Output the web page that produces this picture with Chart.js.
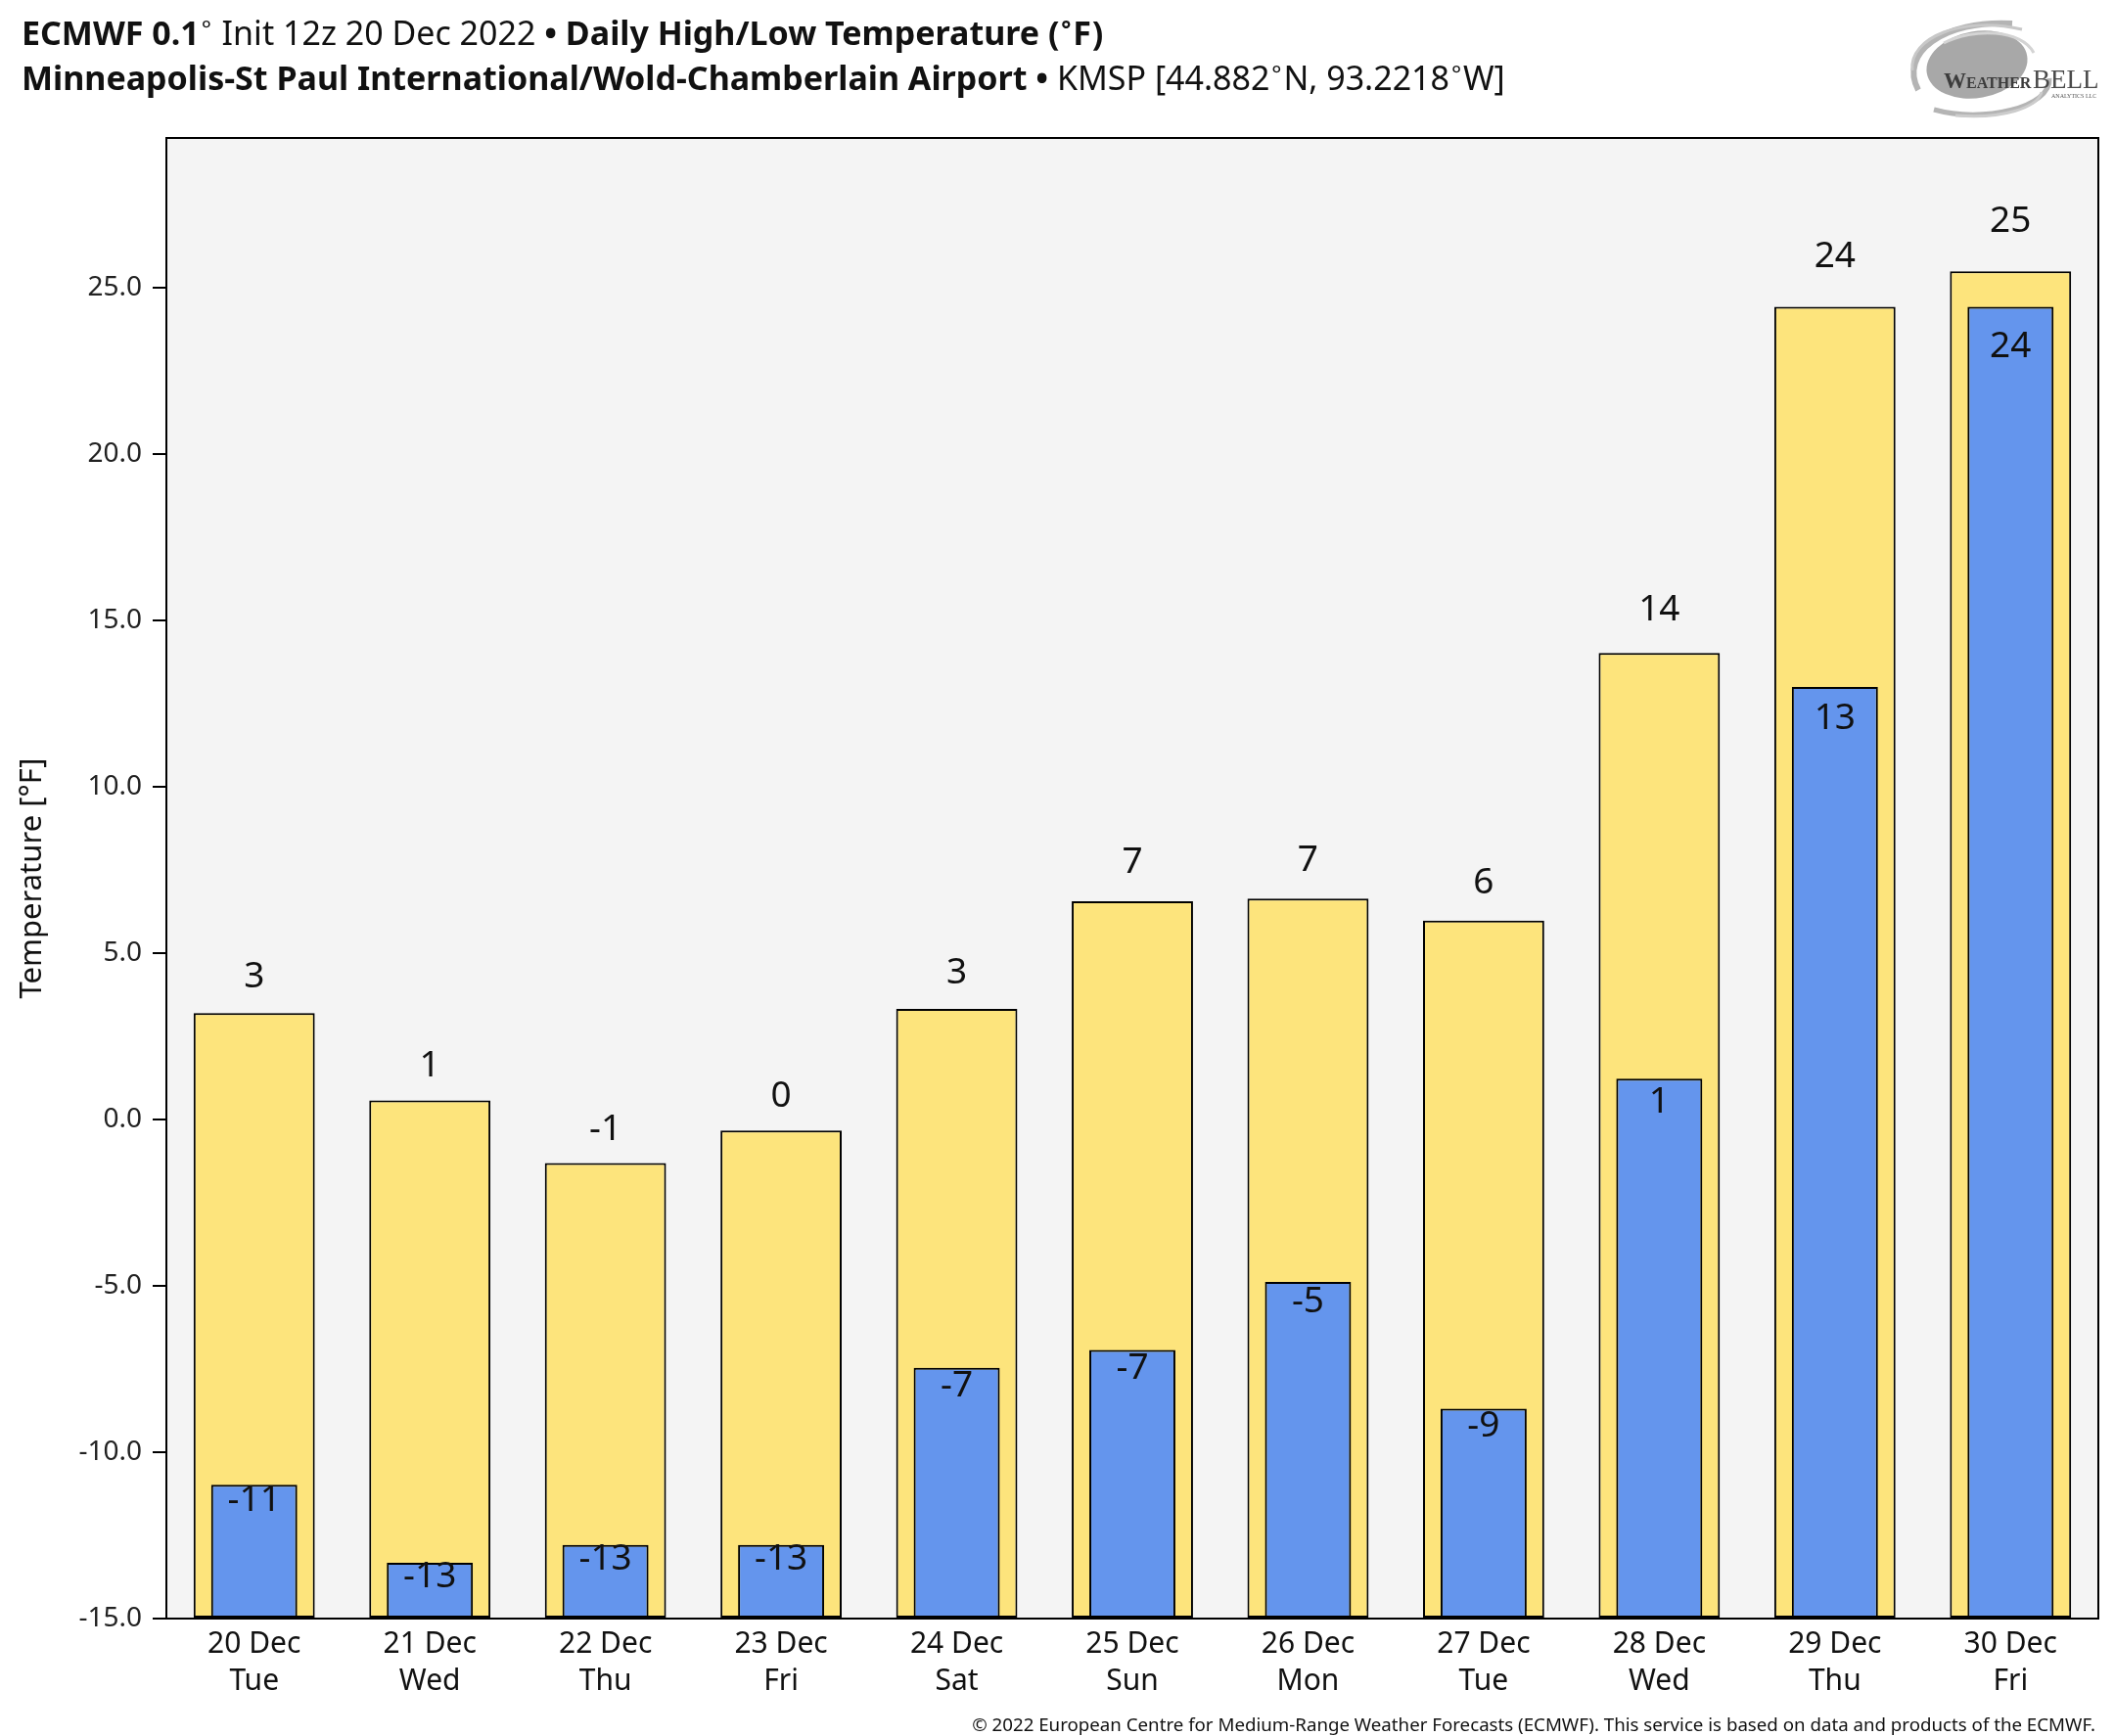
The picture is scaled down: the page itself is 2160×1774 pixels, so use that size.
<!DOCTYPE html>
<html>
<head>
<meta charset="utf-8">
<script src="https://cdn.jsdelivr.net/npm/chart.js@4/dist/chart.umd.min.js"></script>
<style>
  html, body { margin: 0; padding: 0; background: #ffffff; }
  #wrap { position: relative; width: 2160px; height: 1774px; overflow: hidden; font-family: "Noto Sans", sans-serif; color: #111; }
  #c { position: absolute; left: 0; top: 0; }
  .t { position: absolute; left: 22px; white-space: nowrap; font-size: 34px; line-height: 1; }
  .b { font-weight: bold; }
  .deg { font-size: 0.7em; position: relative; top: -0.35em; margin: 0 0.08em; }
  #foot { position: absolute; right: 19px; top: 1749px; font-size: 18.7px; white-space: nowrap; color: #111; }
  #logo { position: absolute; left: 1946px; top: 14px; }
</style>
</head>
<body>
<div id="wrap">
  <canvas id="c" width="2160" height="1774"></canvas>
  <div class="t" style="top:16px;"><span class="b">ECMWF 0.1</span><span class="deg">°</span> Init 12z 20 Dec 2022 <span class="b">• Daily High/Low Temperature (<span class="deg">°</span>F)</span></div>
  <div class="t" style="top:62px;"><span class="b">Minneapolis-St Paul International/Wold-Chamberlain Airport</span> <span class="b">•</span> KMSP [44.882<span class="deg">°</span>N, 93.2218<span class="deg">°</span>W]</div>
  <svg id="logo" width="200" height="108" viewBox="0 0 200 108">
    <ellipse cx="74" cy="52" rx="52" ry="34" fill="#a8a8a8" transform="rotate(-10 74 52)"/>
    <path d="M14 78 C -6 40, 40 6, 110 10" stroke="#b4b4b4" stroke-width="6" fill="none"/>
    <path d="M8 58 C 4 24, 60 2, 120 16" stroke="#c8c8c8" stroke-width="3" fill="none"/>
    <path d="M30 98 C 80 112, 150 96, 148 66" stroke="#b4b4b4" stroke-width="5" fill="none"/>
    <path d="M52 104 C 100 108, 136 96, 140 80" stroke="#cccccc" stroke-width="3" fill="none"/>
    <path d="M40 30 C 70 14, 120 16, 132 40" stroke="#d4d4d4" stroke-width="3" fill="none"/>
    <text x="40" y="76" font-family="Liberation Serif, serif" font-size="23" fill="#3c3c3c" font-weight="bold">W<tspan font-size="16">EATHER</tspan></text>
    <text x="131" y="76" font-family="Liberation Serif, serif" font-size="27" fill="#4a4a4a">BELL</text>
    <text x="150" y="86" font-family="Liberation Serif, serif" font-size="6" fill="#555">ANALYTICS LLC</text>
  </svg>
  <div id="foot">© 2022 European Centre for Medium-Range Weather Forecasts (ECMWF). This service is based on data and products of the ECMWF.</div>
</div>
<script>
const dates = ['20 Dec','21 Dec','22 Dec','23 Dec','24 Dec','25 Dec','26 Dec','27 Dec','28 Dec','29 Dec','30 Dec'];
const weekdays = ['Tue','Wed','Thu','Fri','Sat','Sun','Mon','Tue','Wed','Thu','Fri'];
const highs = [3.2, 0.57, -1.31, -0.33, 3.32, 6.56, 6.64, 5.98, 14.02, 24.43, 25.49];
const lows = [-10.98, -13.32, -12.79, -12.79, -7.46, -6.93, -4.88, -8.69, 1.23, 13.0, 24.43];
const yMin = -15;
const yMax = 29.5;
const yStep = 5;

const labels = dates.map((d, i) => [d, weekdays[i]]);

const frame = {
  id: 'frame',
  beforeDraw(chart) {
    const a = chart.chartArea, ctx = chart.ctx;
    ctx.save();
    ctx.fillStyle = '#f4f4f4';
    ctx.fillRect(a.left, a.top, a.right - a.left, a.bottom - a.top);
    ctx.restore();
  },
  afterDraw(chart) {
    const a = chart.chartArea, ctx = chart.ctx;
    ctx.save();
    ctx.strokeStyle = '#000';
    ctx.lineWidth = 2;
    ctx.strokeRect(a.left, a.top, a.right - a.left, a.bottom - a.top);
    ctx.restore();
  }
};

const valueLabels = {
  id: 'valueLabels',
  afterDatasetsDraw(chart) {
    const ctx = chart.ctx;
    ctx.save();
    ctx.font = '37px "Noto Sans"';
    ctx.fillStyle = '#111';
    ctx.textAlign = 'center';
    ctx.textBaseline = 'middle';
    chart.data.datasets.forEach((ds, di) => {
      const meta = chart.getDatasetMeta(di);
      meta.data.forEach((el, i) => {
        const v = ds.data[i];
        const txt = String(Math.round(v) === 0 ? 0 : Math.round(v));
        let y;
        if (ds.kind === 'high') y = el.y - (34.8 + 0.65 * v);
        else y = el.y + (23.7 + 0.7 * v);
        ctx.fillText(txt, el.x, y);
      });
    });
    ctx.restore();
  }
};

new Chart(document.getElementById('c'), {
  type: 'bar',
  data: {
    labels: labels,
    datasets: [
      {
        kind: 'low',
        data: lows,
        base: yMin,
        backgroundColor: '#6495ed',
        borderColor: '#000',
        borderWidth: 2,
        borderSkipped: false,
        grouped: false,
        categoryPercentage: 1,
        barPercentage: 0.49
      },
      {
        kind: 'high',
        data: highs,
        base: yMin,
        backgroundColor: '#fde47c',
        borderColor: '#000',
        borderWidth: 2,
        borderSkipped: false,
        grouped: false,
        categoryPercentage: 1,
        barPercentage: 0.69
      }
    ]
  },
  options: {
    responsive: false,
    animation: false,
    devicePixelRatio: 1,
    layout: { padding: { top: 141, right: 16, bottom: 0, left: 0 } },
    plugins: { legend: { display: false }, tooltip: { enabled: false } },
    scales: {
      x: {
        grid: { display: false, drawTicks: false },
        border: { display: true, color: '#000', width: 2 },
        ticks: {
          color: '#111',
          padding: 7,
          maxRotation: 0,
          autoSkip: false,
          font: { family: 'Noto Sans', size: 30, lineHeight: 1.27 }
        },
        afterFit(s) { s.height = 120; }
      },
      y: {
        min: yMin,
        max: yMax,
        grid: { drawOnChartArea: false, drawTicks: true, tickLength: 14, color: '#000', lineWidth: 2 },
        border: { display: true, color: '#000', width: 2 },
        ticks: {
          stepSize: yStep,
          includeBounds: false,
          color: '#222',
          padding: 11,
          font: { family: 'Noto Sans', size: 28 },
          callback: v => Number(v).toFixed(1)
        },
        afterBuildTicks(s) { s.ticks = s.ticks.filter(t => t.value % yStep === 0); },
        title: {
          display: true,
          text: 'Temperature [°F]',
          color: '#111',
          font: { family: 'Noto Sans', size: 31 },
          padding: { top: 15, bottom: 0 }
        },
        afterFit(s) { s.width = 170; }
      }
    }
  },
  plugins: [frame, valueLabels]
});
</script>
</body>
</html>
